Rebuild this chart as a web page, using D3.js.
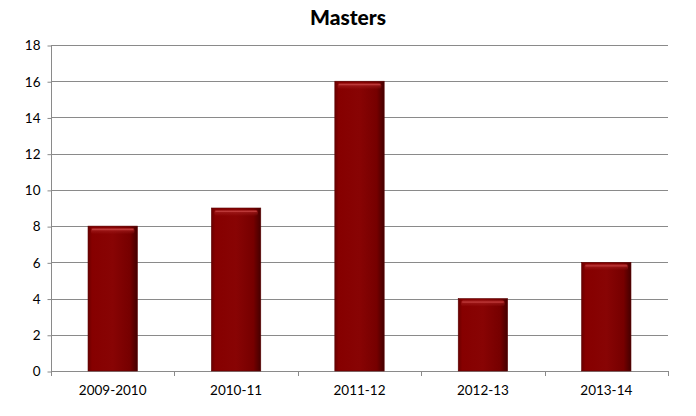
<!DOCTYPE html>
<html><head><meta charset="utf-8">
<script src="https://cdn.jsdelivr.net/npm/d3@7"></script>
<style>body{margin:0;background:#fff}svg{display:block}</style>
</head><body>
<script>
const categories = ["2009-2010","2010-11","2011-12","2012-13","2013-14"];
const values = [8, 9, 16, 4, 6];
const yTicks = [0,2,4,6,8,10,12,14,16,18];
const title = "Masters";

const W = 696, H = 416;
const m = {left: 51, right: 28, top: 45, bottom: 45};
const svg = d3.select("body").append("svg").attr("width", W).attr("height", H);
const defs = svg.append("defs");
const g1 = defs.append("linearGradient").attr("id","barH").attr("x1","0").attr("x2","1").attr("y1","0").attr("y2","0");
[[0,"#6a0000"],[0.08,"#860000"],[0.5,"#880404"],[0.85,"#760000"],[1,"#450000"]].forEach(([o,c])=>g1.append("stop").attr("offset",o).attr("stop-color",c));
const g2 = defs.append("linearGradient").attr("id","hl").attr("x1","0").attr("x2","0").attr("y1","0").attr("y2","1");
[[0,"#a52020",1],[1,"#a52020",0]].forEach(([o,c,a])=>g2.append("stop").attr("offset",o).attr("stop-color",c).attr("stop-opacity",a));

const x = d3.scaleBand().domain(categories).range([m.left, W - m.right]).paddingInner(0.6).paddingOuter(0.3);
const y = d3.scaleLinear().domain([0,18]).range([H - m.bottom, m.top]);

// grid
svg.append("g").selectAll("line").data(yTicks.filter(d=>d>0)).join("line")
  .attr("x1", m.left).attr("x2", W - m.right)
  .attr("y1", d=>Math.round(y(d))+0.5).attr("y2", d=>Math.round(y(d))+0.5)
  .attr("stroke","#8a8a8a").attr("stroke-width",1);

// y axis
const ya = svg.append("g").attr("transform",`translate(${m.left+0.5},0.5)`)
  .call(d3.axisLeft(y).tickValues(yTicks).tickSize(4).tickPadding(7).tickFormat(d3.format("d")));
ya.select(".domain").attr("stroke","#8a8a8a").attr("d",`M0,${Math.round(y(18))}V${Math.round(y(0))}`);
ya.selectAll(".tick line").attr("stroke","#8a8a8a");
ya.selectAll("text").attr("font-family","Lato, 'DejaVu Sans', sans-serif").attr("font-size",13.5).attr("fill","#000");

// x axis
const xEdges = d3.range(categories.length+1).map(i => m.left + i*(W-m.left-m.right)/categories.length);
const xa = svg.append("g");
xa.append("line").attr("x1",m.left).attr("x2",W-m.right).attr("y1",Math.round(y(0))+0.5).attr("y2",Math.round(y(0))+0.5).attr("stroke","#8a8a8a");
xa.selectAll(".xt").data(xEdges).join("line").attr("class","xt")
  .attr("x1",d=>Math.round(d)+0.5).attr("x2",d=>Math.round(d)+0.5)
  .attr("y1",Math.round(y(0))).attr("y2",Math.round(y(0))+5).attr("stroke","#8a8a8a");
xa.selectAll("text").data(categories).join("text")
  .attr("x", d=>x(d)+x.bandwidth()/2).attr("y", y(0)+24)
  .attr("text-anchor","middle").attr("font-family","Lato, 'DejaVu Sans', sans-serif").attr("font-size",13.5).text(d=>d);

// bars
const bars = svg.append("g").selectAll("g").data(categories.map((c,i)=>({c,v:values[i]}))).join("g");
bars.append("rect").attr("x",d=>x(d.c)).attr("width",x.bandwidth())
  .attr("y",d=>y(d.v)).attr("height",d=>y(0)-y(d.v)).attr("fill","url(#barH)")
  .attr("stroke","#5a0000").attr("stroke-width",0.6);
bars.append("rect").attr("x",d=>x(d.c)+3).attr("width",x.bandwidth()-6)
  .attr("y",d=>y(d.v)+2).attr("height",6).attr("rx",2).attr("fill","url(#hl)");
bars.append("line").attr("x1",d=>x(d.c)+4).attr("x2",d=>x(d.c)+x.bandwidth()-4)
  .attr("y1",d=>y(d.v)+3.5).attr("y2",d=>y(d.v)+3.5).attr("stroke","#c44040").attr("stroke-width",1.2).attr("opacity",0.8);

// title
svg.append("text").attr("x", W/2).attr("y", 25).attr("text-anchor","middle")
  .attr("font-family","Lato, 'DejaVu Sans', sans-serif").attr("font-weight","900").attr("font-size",21).text(title);
</script>
</body></html>
